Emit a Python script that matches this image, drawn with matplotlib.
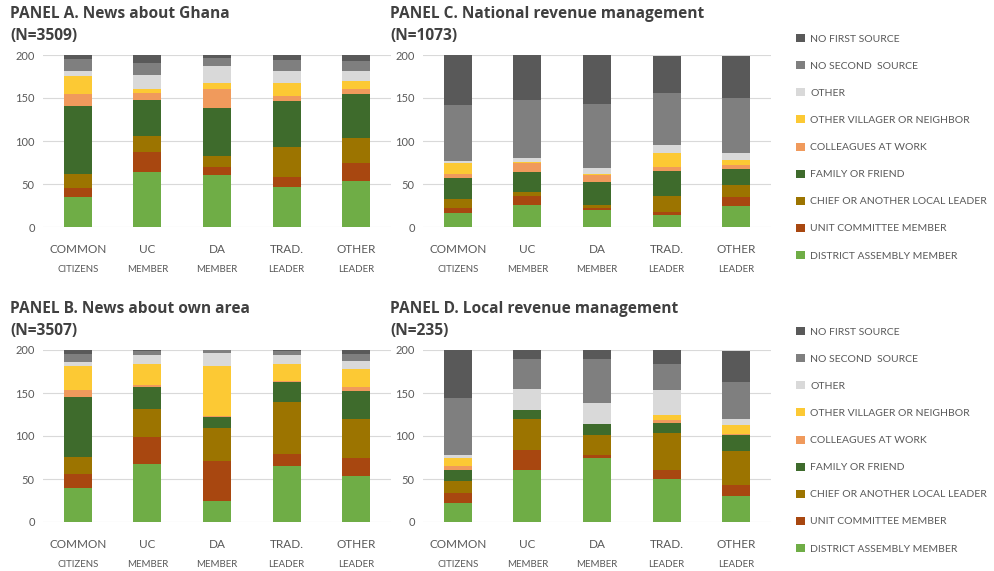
import matplotlib.pyplot as plt
from matplotlib.patches import Patch

plt.rcParams['font.family'] = ['Lato', 'DejaVu Sans']

# bar categories, two-line labels
cat_line1 = ["Common", "UC", "DA", "Trad.", "Other"]
cat_line2 = ["citizens", "member", "member", "leader", "leader"]

# stack order, bottom to top
sources = [
    "District Assembly member",
    "Unit Committee member",
    "Chief or another local leader",
    "Family or friend",
    "Colleagues at work",
    "Other villager or neighbor",
    "Other",
    "No second  source",
    "No first source",
]
colors = ["#6fad46", "#a84710", "#9c7400", "#3e6b2c", "#f09a5c",
          "#fcc934", "#d9d9d9", "#7f7f7f", "#595959"]

# values per source (rows) x category (columns)
ghana = [
    [35, 64, 61, 46, 53],
    [10, 23, 9, 12, 22],
    [17, 19, 12, 35, 29],
    [79, 42, 56, 53, 51],
    [14, 8, 22, 6, 6],
    [21, 5, 8, 15, 9],
    [5, 16, 19, 14, 11],
    [14, 14, 9, 13, 12],
    [5, 9, 4, 6, 7],
]
own_area = [
    [40, 68, 25, 65, 53],
    [16, 31, 46, 14, 22],
    [20, 32, 38, 60, 45],
    [69, 26, 13, 24, 32],
    [9, 2, 1, 1, 5],
    [27, 25, 58, 20, 21],
    [5, 10, 16, 10, 9],
    [9, 5, 3, 5, 8],
    [5, 1, 0, 1, 5],
]
national = [
    [16, 26, 20, 14, 24],
    [6, 10, 2, 4, 11],
    [11, 5, 4, 18, 14],
    [24, 23, 26, 29, 19],
    [5, 10, 9, 5, 4],
    [13, 2, 1, 16, 6],
    [2, 4, 7, 9, 8],
    [65, 68, 74, 61, 64],
    [58, 52, 57, 43, 49],
]
local = [
    [22, 60, 75, 50, 30],
    [12, 24, 3, 11, 13],
    [14, 36, 23, 42, 39],
    [13, 10, 13, 12, 19],
    [4, 0, 0, 4, 1],
    [9, 0, 0, 6, 11],
    [4, 25, 24, 29, 7],
    [66, 34, 52, 30, 43],
    [56, 11, 10, 16, 36],
]

panels = [
    ("PANEL A. News about Ghana", "(N=3509)", ghana, 43, 55),
    ("PANEL C. National revenue management", "(N=1073)", national, 423, 55),
    ("PANEL B. News about own area", "(N=3507)", own_area, 43, 350),
    ("PANEL D. Local revenue management", "(N=235)", local, 423, 350),
]

W, H = 995, 571
fig = plt.figure(figsize=(W / 100, H / 100), dpi=100)
text_col = "#595959"

for title, n_label, data, left_px, top_px in panels:
    ax = fig.add_axes([left_px / W, 1 - (top_px + 172) / H, 348 / W, 172 / H])
    x = range(len(cat_line1))
    bottom = [0] * len(cat_line1)
    for vals, col, name in zip(data, colors, sources):
        ax.bar(x, vals, width=0.4, bottom=bottom, color=col, label=name, zorder=2)
        bottom = [b + v for b, v in zip(bottom, vals)]
    ax.set_xlim(-0.5, 4.5)
    ax.set_ylim(0, 200)
    ax.set_yticks([0, 50, 100, 150, 200])
    ax.yaxis.grid(True, color="#d9d9d9", linewidth=0.8, zorder=0)
    for s in ax.spines.values():
        s.set_visible(False)
    ax.tick_params(axis="y", length=0, labelsize=8, labelcolor=text_col, pad=6)
    ax.set_xticks(list(x), [c.upper() for c in cat_line1])
    ax.tick_params(axis="x", length=0, labelsize=8.5, labelcolor=text_col, pad=12)
    for i, c in enumerate(cat_line2):
        ax.text(i, -0.245, c.upper(), transform=ax.get_xaxis_transform(),
                ha="center", va="center", fontsize=7, color=text_col)
    fig.text((left_px - 33) / W, 1 - (top_px - 41) / H, title, fontsize=11.2,
             fontweight="bold", family="Open Sans", color="#404040", va="center")
    fig.text((left_px - 33) / W, 1 - (top_px - 19) / H, n_label, fontsize=11.2,
             fontweight="bold", family="Open Sans", color="#404040", va="center")

handles = [Patch(facecolor=c, label=s.upper()) for c, s in zip(colors, sources)][::-1]
for top in (30, 323):
    fig.legend(handles=handles, loc="upper left", bbox_to_anchor=(792 / W, 1 - top / H),
               frameon=False, fontsize=7.5, labelcolor=text_col, handlelength=0.8,
               handleheight=0.8, handletextpad=0.55, labelspacing=1.68, borderaxespad=0)

fig.savefig("out.png", dpi=100)
